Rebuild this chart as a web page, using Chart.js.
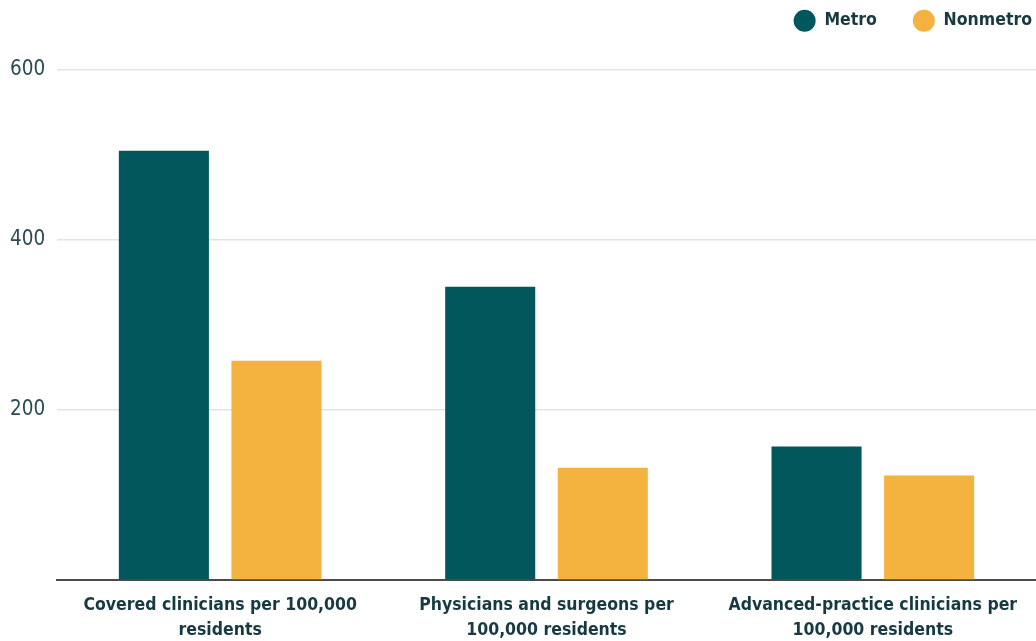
<!DOCTYPE html>
<html lang="en">
<head>
    <meta charset="UTF-8">
    <title>Clinicians per 100,000 residents</title>
    <style>
        body { margin: 0; background: #fff; }
        #wrap { width: 1036px; height: 641px; }
    </style>
</head>
<body>
    <div id="wrap">
        <canvas id="myChart"></canvas>
    </div>

    <script src="https://cdn.jsdelivr.net/npm/chart.js"></script>
    <script>
        // categories (two-line labels on the x axis)
        const v_labels = [
            ["Covered clinicians per 100,000", "residents"],
            ["Physicians and surgeons per", "100,000 residents"],
            ["Advanced-practice clinicians per", "100,000 residents"]
        ];
        const v_metro = [505, 345, 157];
        const v_nonmetro = [258, 132, 123];
        const v_yTicks = [200, 400, 600];

        const v_font = "'Liberation Sans Narrow', 'DejaVu Sans Condensed', 'Roboto', sans-serif";
        const v_text = "#173a42";

        // legend sits in the top-right corner, close to the edge,
        // while the plot area starts a bit lower
        const legendPlace = {
            id: "legendPlace",
            beforeLayout(chart) {
                const lg = chart.legend;
                if (lg && !lg._patched) {
                    const fit = lg.fit;
                    lg.fit = function () {
                        fit.call(this);
                        this.height = 66;
                    };
                    lg._patched = true;
                }
            },
            afterLayout(chart) {
                const lg = chart.legend;
                lg.top -= 28;
                lg.bottom -= 28;
                lg.left += 32;
                lg.right += 32;
            }
        };

        const ctx = document.getElementById("myChart");

        new Chart(ctx, {
            type: "bar",
            data: {
                labels: v_labels,
                datasets: [
                    {
                        label: "Metro",
                        data: v_metro,
                        backgroundColor: "#02575d",
                        categoryPercentage: 0.69,
                        barPercentage: 0.8
                    },
                    {
                        label: "Nonmetro",
                        data: v_nonmetro,
                        backgroundColor: "#f4b23f",
                        categoryPercentage: 0.69,
                        barPercentage: 0.8
                    }
                ]
            },
            plugins: [legendPlace],
            options: {
                responsive: true,
                maintainAspectRatio: false,
                animation: false,
                layout: { padding: { left: 10, right: 0, top: 4, bottom: -7 } },
                plugins: {
                    tooltip: { enabled: false },
                    legend: {
                        position: "top",
                        align: "end",
                        labels: {
                            usePointStyle: true,
                            pointStyle: "circle",
                            pointStyleWidth: 22,
                            boxHeight: 15.5,
                            padding: 36,
                            color: v_text,
                            font: { family: v_font, size: 17.5, weight: "bold" }
                        }
                    }
                },
                scales: {
                    x: {
                        grid: { display: false },
                        border: { color: "#4a4a4a", width: 2 },
                        ticks: {
                            color: v_text,
                            maxRotation: 0,
                            autoSkip: false,
                            padding: 5,
                            font: { family: v_font, size: 17.5, weight: "bold", lineHeight: 1.43 }
                        }
                    },
                    y: {
                        min: 0,
                        max: 600,
                        afterBuildTicks: (axis) => {
                            axis.ticks = [0].concat(v_yTicks).map(v => ({ value: v }));
                        },
                        grid: { color: "#e3e3e3", lineWidth: 1.5, drawTicks: false },
                        border: { display: false },
                        afterFit: (axis) => { axis.width = 47; },
                        ticks: {
                            color: "#2c4a52",
                            padding: 12,
                            crossAlign: "far",
                            font: { family: v_font, size: 20.5 },
                            callback: (v) => v === 0 ? "" : v
                        }
                    }
                }
            }
        });
    </script>
</body>
</html>
